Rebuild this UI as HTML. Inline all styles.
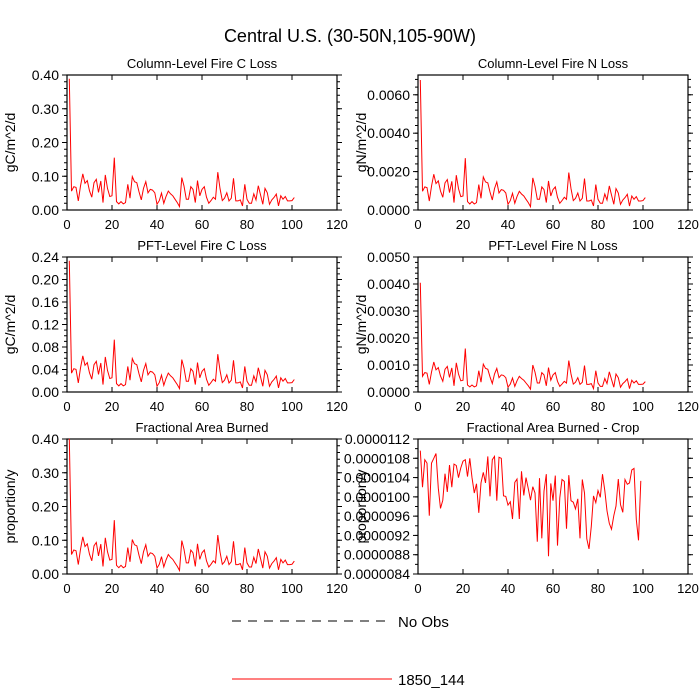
<!DOCTYPE html>
<html><head><meta charset="utf-8"><style>
body{margin:0;background:#fff;}
svg{display:block;font-family:"Liberation Sans",sans-serif;}
</style></head><body>
<svg id="chart" width="700" height="700" viewBox="0 0 700 700">
<text x="350" y="42" text-anchor="middle" font-size="18">Central U.S. (30-50N,105-90W)</text>
<g>
<line x1="232" y1="621" x2="392" y2="621" stroke="#000" stroke-dasharray="9,7"/>
<text x="398" y="627" font-size="15">No Obs</text>
<line x1="232" y1="679" x2="392" y2="679" stroke="red"/>
<text x="398" y="685" font-size="15">1850_144</text>
</g>
</svg>
<script>
const xTicks=[0,20,40,60,80,100,120];
const baseSeries=[38.9,5.6,6.9,6.7,2.7,7.1,10.7,7.9,8.7,5.7,3.8,8.1,9.1,5.2,8.6,2.2,10.4,6.4,4,4.2,15.5,2.5,1.8,2.5,1.8,2.2,7.6,3.5,9.9,8.4,8.1,5.4,3,6.4,8.4,5.1,6.1,5.9,5.1,1.7,2.8,5,2,4,5.6,4.8,4.2,3.2,2.2,1,9.6,7.1,3.2,3.2,6.9,6.1,2.2,8.7,4.2,6.1,6.9,3.8,2,2.8,3.8,3.2,11.2,6.4,2.8,3.5,5.1,2.7,3.5,9.4,2.7,2.7,3,1.2,7.6,3.2,2,2,4.8,3,7.2,4.5,1.7,6.4,5.1,1.7,3,3.7,4.7,1.2,4.2,3.2,4,2.7,2.7,2.8,3.7];
const colC=baseSeries.map(v=>v*0.01);
const colN=baseSeries.map(v=>v*0.000174);
const pftC=baseSeries.map(v=>v*0.006);
const pftN=baseSeries.map(v=>v*0.000104);
const fracBurn=baseSeries.map(v=>v*0.0103);
const cropBurn=[109.6,102,107.7,107,96.1,107,108,109,101.8,97.6,99.3,104.8,101,106.6,102,106.8,106.5,104,106,107.4,107.7,104.2,108,104,100.8,102.7,96.7,102.9,105.1,102.9,108.4,100.1,107.7,108.4,99.2,108.2,108,100.2,100.1,98.3,99,95.4,103,103.7,95.4,105.3,100.3,104,101.7,99.3,102.1,100.8,90.7,103.9,91.4,101.2,104.7,87.7,102.8,99.2,104.4,89.9,99.8,103.6,103.2,93.4,104.5,99.2,98.9,97.5,99.6,91.4,103.6,100.8,91.3,89.2,93.9,100.2,98.8,101.3,99.9,104.7,101.3,97.1,94.5,93.3,96.1,98.1,103.7,98.4,96.8,103.6,102.6,102.9,105.6,105.9,95.3,91,103.3].map(v=>v*1e-7);
const ticks1=["0.00","0.10","0.20","0.30","0.40"];
const ticks2=["0.0000","0.0020","0.0040","0.0060"];
const ticks3=["0.00","0.04","0.08","0.12","0.16","0.20","0.24"];
const ticks4=["0.0000","0.0010","0.0020","0.0030","0.0040","0.0050"];
const ticks6=["0.0000084","0.0000088","0.0000092","0.0000096","0.0000100","0.0000104","0.0000108","0.0000112"];
const NS="http://www.w3.org/2000/svg";
const svg=document.getElementById('chart');
function mk(t,a,p){const e=document.createElementNS(NS,t);for(const k in a)e.setAttribute(k,a[k]);(p||svg).appendChild(e);return e;}
const panels=[
{title:"Column-Level Fire C Loss",yt:"gC/m^2/d",x0:67,y0:75,data:colC,ymin:0,ymax:0.4,ticks:ticks1,minor:5,name:"col-fire-c"},
{title:"Column-Level Fire N Loss",yt:"gN/m^2/d",x0:418,y0:75,data:colN,ymin:0,ymax:0.00703,ticks:ticks2,minor:5,name:"col-fire-n"},
{title:"PFT-Level Fire C Loss",yt:"gC/m^2/d",x0:67,y0:257,data:pftC,ymin:0,ymax:0.24,ticks:ticks3,minor:4,name:"pft-fire-c"},
{title:"PFT-Level Fire N Loss",yt:"gN/m^2/d",x0:418,y0:257,data:pftN,ymin:0,ymax:0.005,ticks:ticks4,minor:5,name:"pft-fire-n"},
{title:"Fractional Area Burned",yt:"proportion/y",x0:67,y0:439,data:fracBurn,ymin:0,ymax:0.4,ticks:ticks1,minor:5,name:"frac-burned"},
{title:"Fractional Area Burned - Crop",yt:"proportion/y",x0:418,y0:439,data:cropBurn,ymin:0.0000084,ymax:0.0000112,ticks:ticks6,minor:2,name:"frac-burned-crop"}];
const W=270,H=135;
panels.forEach(p=>{
 const g=mk('g',{});
 
 
 const xs=v=>p.x0+v/120*W;
 const ys=v=>p.y0+H-(v-p.ymin)/(p.ymax-p.ymin)*H;
 const t=mk('text',{x:p.x0+W/2,y:p.y0-7,'text-anchor':'middle','font-size':13},g);t.textContent=p.title;
 
 
 const yt=mk('text',{x:0,y:0,'text-anchor':'middle','font-size':14,transform:`translate(${p.x0-52},${p.y0+H/2}) rotate(-90)`},g);yt.textContent=p.yt;
 
 
 xTicks.forEach(v=>{const x=xs(v);
  mk('line',{x1:x,x2:x,y1:p.y0+H,y2:p.y0+H-5,stroke:'#000'},g);
  mk('line',{x1:x,x2:x,y1:p.y0,y2:p.y0+5,stroke:'#000'},g);
  const l=mk('text',{x:x,y:p.y0+H+19,'text-anchor':'middle','font-size':13},g);l.textContent=v;
  
  });
 const n=p.ticks.length;
 const tv=i=>parseFloat(p.ticks[i]);
 const dt=tv(1)-tv(0);
 for(let i=0;i<n;i++){const y=ys(tv(i));
  mk('line',{x1:p.x0-5,x2:p.x0,y1:y,y2:y,stroke:'#000'},g);
  mk('line',{x1:p.x0+W,x2:p.x0+W+5,y1:y,y2:y,stroke:'#000'},g);
  const l=mk('text',{x:p.x0-8,y:y+5,'text-anchor':'end','font-size':14},g);l.textContent=p.ticks[i];
  
  }
 for(let k=0;;k++){const v=tv(0)+k*dt/p.minor;if(v>p.ymax+dt*0.01)break;const y=ys(v);
  mk('line',{x1:p.x0-3,x2:p.x0,y1:y,y2:y,stroke:'#000'},g);
  mk('line',{x1:p.x0+W,x2:p.x0+W+3,y1:y,y2:y,stroke:'#000'},g);}
 mk('rect',{x:p.x0,y:p.y0,width:W,height:H,fill:'none',stroke:'#000','stroke-width':1.2},g);
 const pts=p.data.map((v,i)=>xs(i+1).toFixed(1)+','+ys(v).toFixed(1)).join(' ');
 const pl=mk('polyline',{points:pts,fill:'none',stroke:'red','stroke-width':1},g);
 
 
});
</script>
</body></html>
